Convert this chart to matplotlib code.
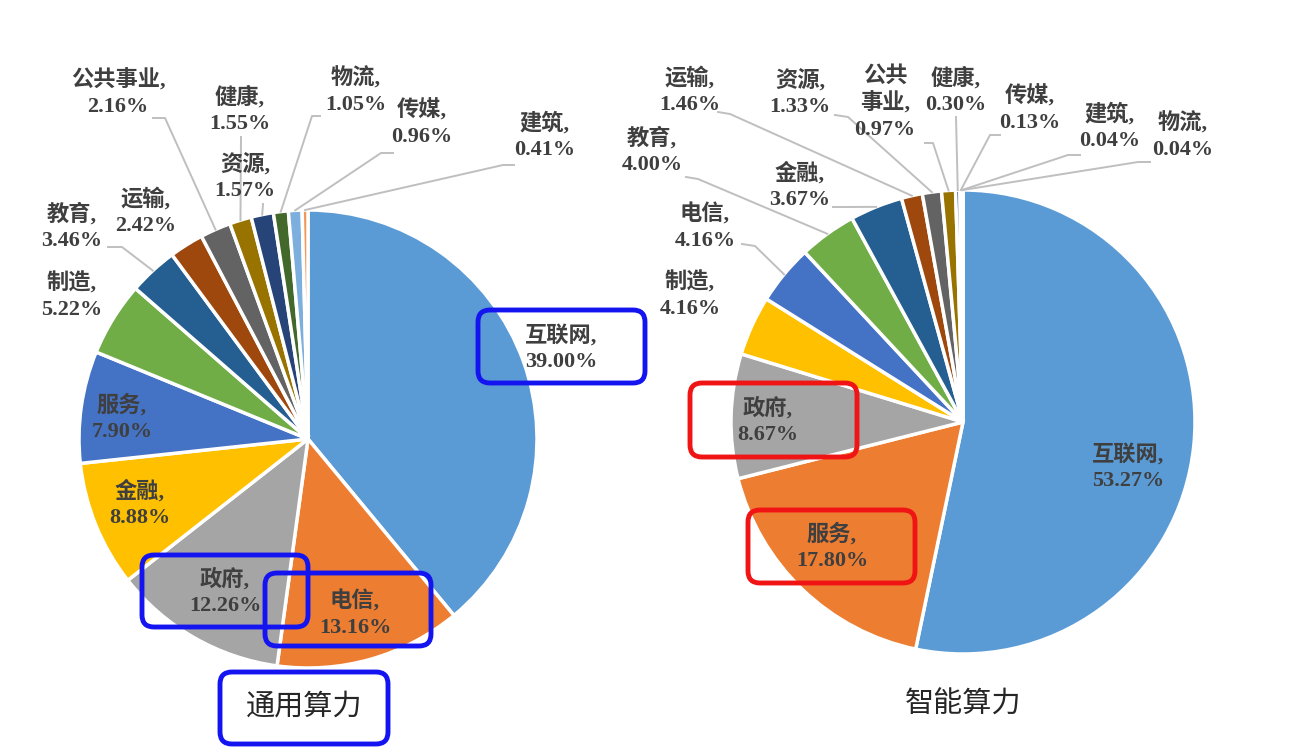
import matplotlib
matplotlib.use("Agg")
import numpy as np
import matplotlib.pyplot as plt
from matplotlib.patches import FancyBboxPatch

# ── Data ───────────────────────────────────────────────────────────────────────

left_names = ["互联网", "电信", "政府", "金融", "服务", "制造", "教育",
              "运输", "公共事业", "健康", "资源", "物流", "传媒", "建筑"]
left_values = [39.00, 13.16, 12.26, 8.88, 7.90, 5.22, 3.46,
               2.42, 2.16, 1.55, 1.57, 1.05, 0.96, 0.41]

right_names = ["互联网", "服务", "政府", "制造", "电信", "教育", "金融",
               "运输", "资源", "公共事业", "健康", "传媒", "建筑", "物流"]
right_values = [53.27, 17.80, 8.67, 4.16, 4.16, 4.00, 3.67,
                1.46, 1.33, 0.97, 0.30, 0.13, 0.04, 0.04]

left_title = "通用算力"
right_title = "智能算力"

palette = ["#5B9BD5", "#ED7D31", "#A5A5A5", "#FFC000", "#4472C4", "#70AD47",
           "#255E91", "#9E480E", "#636363", "#997300", "#264478", "#43682B",
           "#7CAFDD", "#F1975A"]

# ── Layout (pixel coords, y measured from top) ─────────────────────────────────

W, H = 1291, 748

left_pie = dict(cx=308, cy=439, r=229)
right_pie = dict(cx=963, cy=422, r=232)

# label centre, leader points before reaching the slice edge
left_layout = {
    "互联网": ((561, 348), None),
    "电信": ((355, 614), None),
    "政府": ((225, 592), None),
    "金融": ((140, 504), None),
    "服务": ((122, 418), None),
    "制造": ((72, 296), None),
    "教育": ((72, 227), [(108, 247), (122, 247)]),
    "运输": ((146, 212), None),
    "公共事业": ((118, 93), [(153, 118), (165, 118)]),
    "健康": ((240, 110), [(241, 137)]),
    "资源": ((245, 177), [(263, 204)]),
    "物流": ((356, 91), [(320, 116), (312, 116)]),
    "传媒": ((422, 123), [(393, 153), (381, 153)]),
    "建筑": ((545, 136), [(514, 165), (503, 165)]),
}

right_layout = {
    "互联网": ((1128, 467), None),
    "服务": ((832, 547), None),
    "政府": ((768, 421), None),
    "制造": ((690, 295), None),
    "电信": ((705, 227), [(742, 244), (755, 246)]),
    "教育": ((652, 151), [(686, 177), (698, 179)]),
    "金融": ((800, 186), [(833, 207), (846, 207)]),
    "运输": ((690, 91), [(718, 112), (730, 114)]),
    "资源": ((800, 93), [(835, 115), (848, 117)]),
    "公共事业": ((885, 103), [(925, 143), (933, 143)]),
    "健康": ((956, 91), [(956, 117)]),
    "传媒": ((1030, 109), [(1000, 135), (990, 135)]),
    "建筑": ((1110, 127), [(1080, 155), (1068, 155)]),
    "物流": ((1183, 136), [(1150, 162), (1138, 162)]),
}

blue_boxes = [(478, 310, 645, 383), (142, 555, 308, 627),
              (265, 573, 431, 646), (220, 672, 388, 744)]
red_boxes = [(690, 383, 857, 457), (748, 510, 915, 583)]

label_font = ["Liberation Serif", "Noto Sans CJK SC"]
title_font = ["Noto Sans CJK SC", "DejaVu Sans"]
text_color = "#3F3F3F"


def py(y):
    return H - y


def label_text(name, value):
    if name == "公共事业" and value < 1:
        return f"公共\n事业,\n{value:.2f}%"
    return f"{name},\n{value:.2f}%"


def draw_pie(ax, names, values, geo, layout):
    cx, cy, r = geo["cx"], py(geo["cy"]), geo["r"]
    wedges, _ = ax.pie(values, colors=palette, startangle=90, counterclock=False,
                       center=(cx, cy), radius=r,
                       wedgeprops=dict(edgecolor="white", linewidth=2.5))
    for w, name, val in zip(wedges, names, values):
        (tx, ty), leader = layout[name]
        ax.text(tx, py(ty), label_text(name, val), ha="center", va="center",
                family=label_font, weight="bold", fontsize=16,
                color=text_color, linespacing=1.35, zorder=5)
        if leader:
            mid = np.deg2rad((w.theta1 + w.theta2) / 2)
            ex, ey = cx + r * np.cos(mid), cy + r * np.sin(mid)
            xs = [p[0] for p in leader] + [ex]
            ys = [py(p[1]) for p in leader] + [ey]
            ax.plot(xs, ys, color="#BFBFBF", lw=1.4, zorder=1)


def draw_box(ax, box, color):
    x0, y0, x1, y1 = box
    ax.add_patch(FancyBboxPatch((x0, py(y1)), x1 - x0, y1 - y0,
                                boxstyle="round,pad=0,rounding_size=12",
                                fill=False, edgecolor=color, linewidth=3.5,
                                zorder=6))


fig = plt.figure(figsize=(W / 100, H / 100), dpi=100)
ax = fig.add_axes([0, 0, 1, 1])

draw_pie(ax, left_names, left_values, left_pie, left_layout)
draw_pie(ax, right_names, right_values, right_pie, right_layout)

ax.text(304, py(707), left_title, ha="center", va="center", family=title_font,
        fontsize=21, color="#262626")
ax.text(963, py(705), right_title, ha="center", va="center", family=title_font,
        fontsize=21, color="#262626")

for b in blue_boxes:
    draw_box(ax, b, "#1414F0")
for b in red_boxes:
    draw_box(ax, b, "#F01414")

ax.set_xlim(0, W)
ax.set_ylim(0, H)
ax.set_aspect("equal")
ax.axis("off")

fig.savefig("out.png", dpi=100, facecolor="white")
